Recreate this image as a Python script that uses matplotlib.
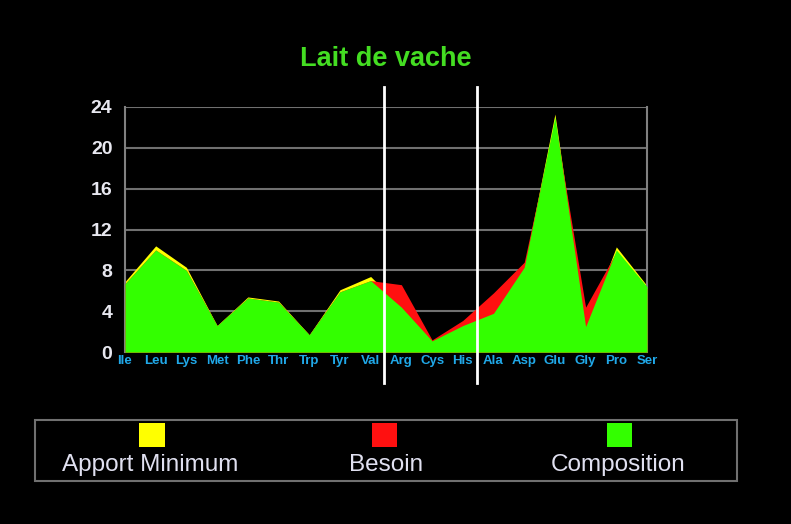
import matplotlib.pyplot as plt
import matplotlib.patches as patches
import numpy as np

plt.rcParams['font.family'] = ['Liberation Sans', 'DejaVu Sans']

# amino acids on the x axis
acides = ['Ile', 'Leu', 'Lys', 'Met', 'Phe', 'Thr', 'Trp', 'Tyr', 'Val',
          'Arg', 'Cys', 'His', 'Ala', 'Asp', 'Glu', 'Gly', 'Pro', 'Ser']

# series values
apport_minimum = [6.9, 10.4, 8.3, 2.6, 5.4, 5.0, 1.7, 6.1, 7.4,
                  4.4, 1.1, 2.6, 3.8, 8.3, 23.3, 2.5, 10.3, 6.5]
besoin = [6.7, 10.0, 8.0, 2.6, 5.3, 4.9, 1.7, 5.9, 7.0,
          6.6, 1.2, 3.1, 5.8, 8.8, 22.6, 4.4, 9.8, 6.2]
composition = [6.7, 10.0, 8.0, 2.6, 5.3, 4.9, 1.7, 5.9, 7.0,
               4.4, 1.1, 2.6, 3.8, 8.3, 23.0, 2.5, 10.0, 6.4]

y_ticks = [0, 4, 8, 12, 16, 20, 24]
separateurs = [8.44, 11.47]  # white lines between groups

fig = plt.figure(figsize=(7.91, 5.24), dpi=100, facecolor='black')
ax = fig.add_axes([0.158, 0.328, 0.66, 0.468])
ax.set_facecolor('black')

x = np.arange(len(acides))
ax.fill_between(x, apport_minimum, color='#ffff00', lw=0, zorder=2)
ax.fill_between(x, besoin, color='#ff1010', lw=0, zorder=3)
ax.fill_between(x, composition, color='#33ff00', lw=0, zorder=4)

ax.set_xlim(0, len(acides) - 1)
ax.set_ylim(0, 24)

# grid + frame in gray
for y in y_ticks[1:]:
    ax.axhline(y, color='#707070', lw=1.5, zorder=1)
for side in ['top', 'bottom']:
    ax.spines[side].set_visible(False)
ax.spines['left'].set_color('#808080')
ax.spines['right'].set_color('#808080')
ax.spines['left'].set_linewidth(1.5)
ax.spines['right'].set_linewidth(1.5)

ax.set_yticks(y_ticks)
ax.set_yticklabels([str(v) for v in y_ticks], color='#e8e8f0',
                   fontsize=14, fontweight='bold')
ax.set_xticks(x)
ax.set_xticklabels(acides, color='#20a8e8', fontsize=9.5, fontweight='bold')
ax.tick_params(length=0, pad=2)
ax.tick_params(axis='y', pad=9)

# vertical separators going past the axes
for s in separateurs:
    ax.plot([s, s], [-3.0, 25.9], color='white', lw=2, clip_on=False, zorder=6)

fig.text(0.488, 0.888, 'Lait de vache', color='#44dd22', fontsize=19.5,
         fontweight='bold', ha='center', va='center')

# legend box at the bottom
leg = patches.Rectangle((0.044, 0.082), 0.888, 0.116, transform=fig.transFigure,
                        facecolor='none', edgecolor='#707070', lw=1.5)
fig.add_artist(leg)
items = [('Apport Minimum', '#ffff00', 0.192, 0.19),
         ('Besoin', '#ff1010', 0.486, 0.488),
         ('Composition', '#33ff00', 0.783, 0.781)]
for label, col, sx, tx in items:
    sq = patches.Rectangle((sx - 0.016, 0.147), 0.032, 0.046,
                           transform=fig.transFigure, facecolor=col,
                           edgecolor='none')
    fig.add_artist(sq)
    fig.text(tx, 0.113, label, color='#e0e0f0', fontsize=17.5,
             ha='center', va='center')

fig.savefig('out.png', dpi=100, facecolor='black')
